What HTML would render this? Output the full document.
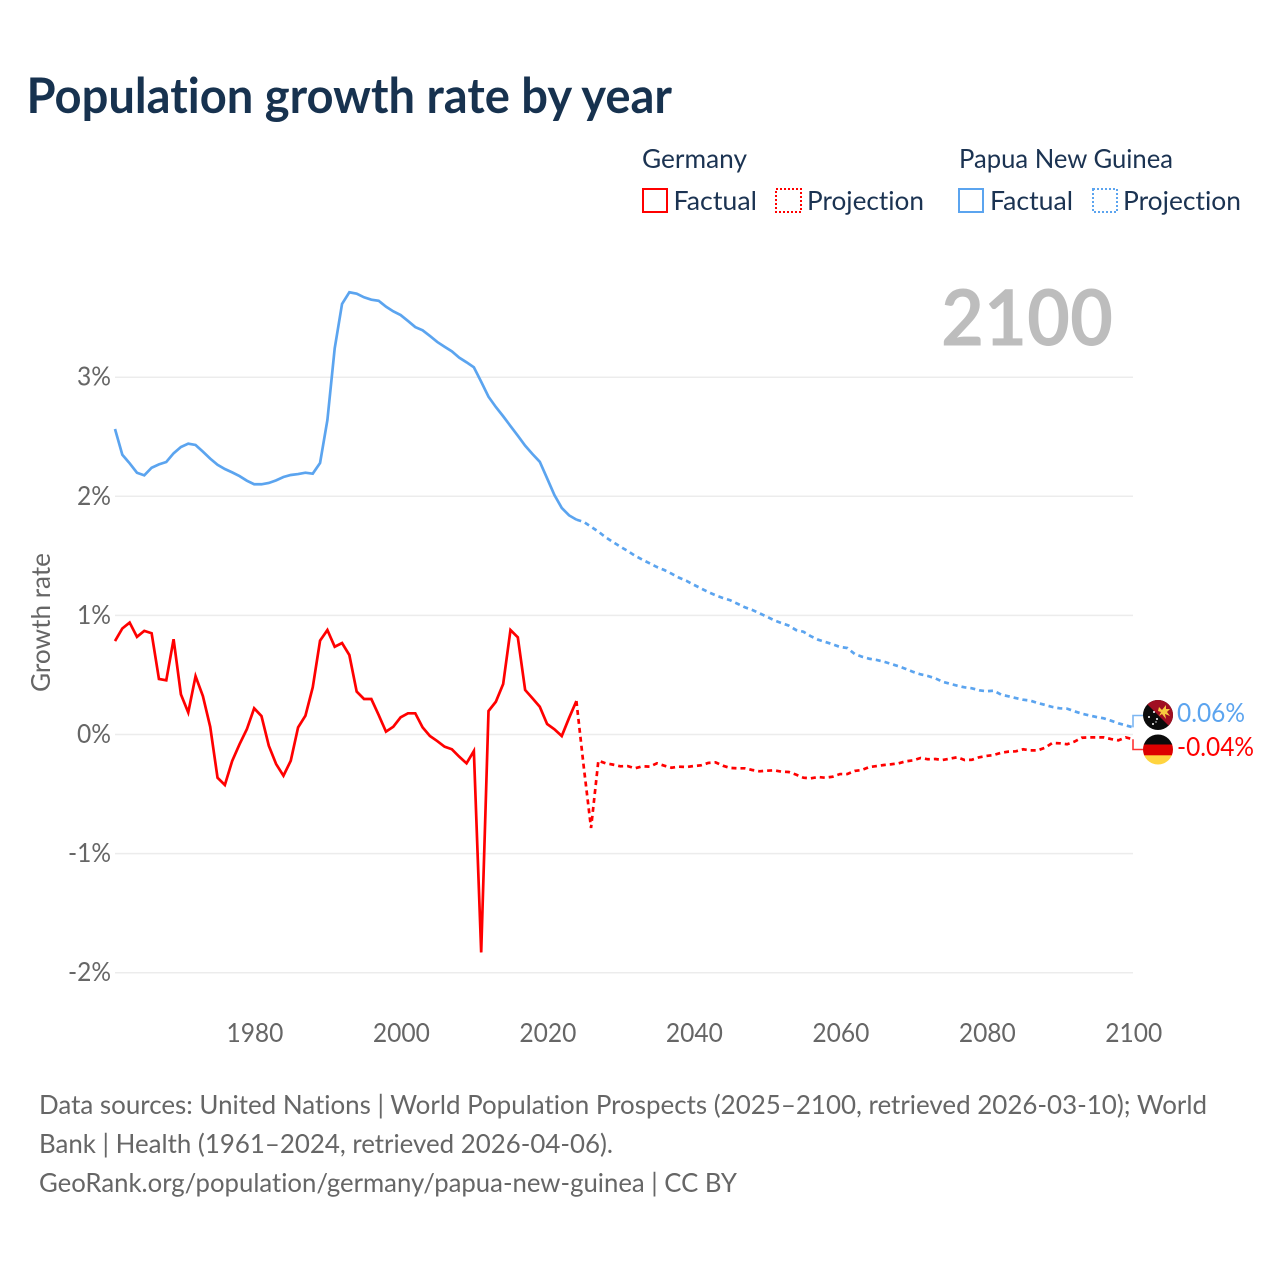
<!DOCTYPE html>
<html lang="en">
<head>
<meta charset="utf-8">
<title>Population growth rate by year</title>
<style>
html,body{margin:0;padding:0;background:#fff;width:1280px;height:1280px;overflow:hidden}
svg{display:block}
text{font-family:"Lato","Carlito","Liberation Sans",sans-serif;font-variant-ligatures:none;font-feature-settings:"liga" 0,"clig" 0}
.legend-text{font-size:26.5px;fill:#1b3352}
.foot{font-size:26.5px;fill:#666}
.tick{font-size:26.5px;fill:#666}
</style>
</head>
<body>
<svg id="chart" width="1280" height="1280" viewBox="0 0 1280 1280" xmlns="http://www.w3.org/2000/svg">
  <rect x="0" y="0" width="1280" height="1280" fill="#fff"/>
  <text x="26.5" y="113" font-size="49" font-weight="700" fill="#17324f" textLength="645.5" lengthAdjust="spacingAndGlyphs">Population growth rate by year</text>

  <g>
    <text class="legend-text" x="642" y="168" textLength="105" lengthAdjust="spacingAndGlyphs">Germany</text>
    <rect x="643" y="189" width="24" height="23" fill="none" stroke="#ff0000" stroke-width="2"/>
    <text class="legend-text" x="673.5" y="210" textLength="83.5" lengthAdjust="spacingAndGlyphs">Factual</text>
    <rect x="776" y="189" width="25" height="23" fill="none" stroke="#ff0000" stroke-width="2" stroke-dasharray="2 2"/>
    <text class="legend-text" x="807" y="210" textLength="117" lengthAdjust="spacingAndGlyphs">Projection</text>
    <text class="legend-text" x="959" y="168" textLength="214" lengthAdjust="spacingAndGlyphs">Papua New Guinea</text>
    <rect x="959" y="189" width="24" height="23" fill="none" stroke="#5ba4ef" stroke-width="2"/>
    <text class="legend-text" x="990" y="210" textLength="83" lengthAdjust="spacingAndGlyphs">Factual</text>
    <rect x="1093" y="189" width="24" height="23" fill="none" stroke="#5ba4ef" stroke-width="2" stroke-dasharray="2 2"/>
    <text class="legend-text" x="1123" y="210" textLength="118" lengthAdjust="spacingAndGlyphs">Projection</text>
  </g>

  <text x="941" y="345.5" font-size="78" font-weight="700" fill="#bdbdbd" textLength="172" lengthAdjust="spacingAndGlyphs">2100</text>
  <text transform="translate(50,692) rotate(-90)" x="0" y="0" font-size="26.5" fill="#666" textLength="139" lengthAdjust="spacingAndGlyphs">Growth rate</text>

  <g id="grid"></g>
  <g id="yticks"></g>
  <g id="xticks"></g>
  <g id="series"></g>

  <g>
    <clipPath id="clip-png"><circle cx="1158" cy="715" r="15"/></clipPath>
    <g clip-path="url(#clip-png)">
      <rect x="1143" y="700" width="30" height="30" fill="#0b0b0b"/>
      <polygon points="1143,700 1173,700 1173,730" fill="#a00f22"/>
      <polygon points="1159,707 1162,710 1166,705 1166,709 1170,709 1167,712 1170,716 1165,714 1166,719 1162,714 1159,716 1161,712 1158,711" fill="#f7c93e"/>
      <circle cx="1149" cy="717" r="1" fill="#fff"/>
      <circle cx="1154" cy="712" r="1" fill="#fff"/>
      <circle cx="1157" cy="719" r="1" fill="#fff"/>
      <circle cx="1153" cy="724" r="1" fill="#fff"/>
      <circle cx="1156" cy="722" r=".7" fill="#fff"/>
    </g>
  </g>
  <g>
    <clipPath id="clip-de"><circle cx="1158" cy="749.5" r="15"/></clipPath>
    <g clip-path="url(#clip-de)">
      <rect x="1143" y="734" width="30" height="11" fill="#0b0b0b"/>
      <rect x="1143" y="744.5" width="30" height="11" fill="#dd0000"/>
      <rect x="1143" y="755.3" width="30" height="10" fill="#ffd43f"/>
    </g>
  </g>
  <text id="end-png" x="1177" y="722" font-size="26.5" fill="#5ba4ef" textLength="68" lengthAdjust="spacingAndGlyphs"></text>
  <text id="end-de" x="1177" y="756" font-size="26.5" fill="#ff0000" textLength="77" lengthAdjust="spacingAndGlyphs"></text>

  <g>
    <text class="foot" x="39" y="1114" textLength="1168" lengthAdjust="spacingAndGlyphs">Data sources: United Nations | World Population Prospects (2025–2100, retrieved 2026-03-10); World</text>
    <text class="foot" x="39" y="1153" textLength="574" lengthAdjust="spacingAndGlyphs">Bank | Health (1961–2024, retrieved 2026-04-06).</text>
    <text class="foot" x="39" y="1192" textLength="698" lengthAdjust="spacingAndGlyphs">GeoRank.org/population/germany/papua-new-guinea | CC BY</text>
  </g>
</svg>
<script>
const factualYears = [1961,1962,1963,1964,1965,1966,1967,1968,1969,1970,1971,1972,1973,1974,1975,1976,1977,1978,1979,1980,1981,1982,1983,1984,1985,1986,1987,1988,1989,1990,1991,1992,1993,1994,1995,1996,1997,1998,1999,2000,2001,2002,2003,2004,2005,2006,2007,2008,2009,2010,2011,2012,2013,2014,2015,2016,2017,2018,2019,2020,2021,2022,2023,2024];
const projectionYears = [2024,2025,2026,2027,2028,2029,2030,2031,2032,2033,2034,2035,2036,2037,2038,2039,2040,2041,2042,2043,2044,2045,2046,2047,2048,2049,2050,2051,2052,2053,2054,2055,2056,2057,2058,2059,2060,2061,2062,2063,2064,2065,2066,2067,2068,2069,2070,2071,2072,2073,2074,2075,2076,2077,2078,2079,2080,2081,2082,2083,2084,2085,2086,2087,2088,2089,2090,2091,2092,2093,2094,2095,2096,2097,2098,2099,2100];
const germanyFactual = [0.785,0.89,0.94,0.82,0.87,0.85,0.466,0.455,0.80,0.337,0.185,0.49,0.323,0.065,-0.363,-0.424,-0.222,-0.082,0.044,0.22,0.155,-0.094,-0.248,-0.346,-0.22,0.06,0.158,0.396,0.788,0.877,0.737,0.768,0.667,0.36,0.298,0.298,0.164,0.024,0.065,0.144,0.178,0.178,0.06,-0.013,-0.055,-0.102,-0.124,-0.186,-0.242,-0.139,-1.83,0.197,0.275,0.424,0.877,0.816,0.374,0.304,0.233,0.088,0.044,-0.013,0.139,0.281];
const germanyProjection = [0.281,-0.27,-0.785,-0.22,-0.242,-0.253,-0.267,-0.265,-0.284,-0.267,-0.27,-0.242,-0.262,-0.279,-0.27,-0.273,-0.265,-0.259,-0.239,-0.234,-0.262,-0.281,-0.284,-0.284,-0.298,-0.309,-0.304,-0.301,-0.312,-0.315,-0.337,-0.363,-0.368,-0.357,-0.363,-0.354,-0.332,-0.332,-0.306,-0.298,-0.273,-0.265,-0.256,-0.25,-0.242,-0.225,-0.217,-0.197,-0.208,-0.206,-0.214,-0.203,-0.191,-0.214,-0.212,-0.191,-0.18,-0.172,-0.153,-0.144,-0.141,-0.124,-0.133,-0.133,-0.111,-0.071,-0.074,-0.082,-0.06,-0.027,-0.024,-0.024,-0.024,-0.038,-0.049,-0.024,-0.04];
const pngFactual = [2.565,2.349,2.277,2.198,2.176,2.24,2.268,2.288,2.361,2.414,2.442,2.431,2.375,2.316,2.265,2.229,2.201,2.17,2.131,2.101,2.101,2.112,2.134,2.162,2.179,2.187,2.198,2.19,2.28,2.64,3.243,3.615,3.713,3.701,3.671,3.651,3.642,3.592,3.553,3.522,3.472,3.421,3.394,3.346,3.296,3.256,3.217,3.164,3.125,3.083,2.962,2.836,2.75,2.672,2.59,2.509,2.425,2.355,2.29,2.151,2.011,1.902,1.84,1.804];
const pngProjection = [1.804,1.785,1.745,1.703,1.656,1.616,1.577,1.541,1.501,1.468,1.437,1.406,1.381,1.35,1.317,1.291,1.258,1.227,1.196,1.169,1.146,1.127,1.098,1.068,1.046,1.018,0.989,0.959,0.936,0.914,0.877,0.863,0.825,0.796,0.777,0.757,0.735,0.726,0.676,0.653,0.636,0.626,0.611,0.592,0.573,0.55,0.525,0.505,0.491,0.472,0.443,0.426,0.41,0.396,0.388,0.371,0.363,0.368,0.334,0.321,0.306,0.292,0.284,0.264,0.248,0.231,0.22,0.217,0.195,0.175,0.161,0.147,0.136,0.116,0.094,0.077,0.06];
const yTicks = [-2,-1,0,1,2,3];
const yTickLabels = ['-2%','-1%','0%','1%','2%','3%'];
const xTicks = [1980,2000,2020,2040,2060,2080,2100];
const xTickLabels = ['1980','2000','2020','2040','2060','2080','2100'];

const NS = 'http://www.w3.org/2000/svg';
const RED = '#ff0000';
const BLUE = '#5ba4ef';
function xScale(year) { return 115 + (year - 1961) * (1133 - 115) / (2100 - 1961); }
function yScale(v) { return 734.5 - v * 119.1; }
function linePath(years, values) {
  return years.map(function (yr, i) {
    return (i ? 'L' : 'M') + xScale(yr).toFixed(2) + ' ' + yScale(values[i]).toFixed(2);
  }).join(' ');
}
function make(tag, parentId) {
  const el = document.createElementNS(NS, tag);
  document.getElementById(parentId).appendChild(el);
  return el;
}

yTicks.forEach(function (t, i) {
  const line = make('line', 'grid');
  
  
  line.setAttribute('x1', 115);
  line.setAttribute('x2', 1133);
  line.setAttribute('y1', yScale(t));
  line.setAttribute('y2', yScale(t));
  line.setAttribute('stroke', '#ececec');
  line.setAttribute('stroke-width', '1.5');

  const label = make('text', 'yticks');
  
  
  label.setAttribute('class', 'tick');
  label.setAttribute('x', 111);
  label.setAttribute('y', yScale(t) + 8.5);
  label.setAttribute('text-anchor', 'end');
  label.setAttribute('textLength', 34 + (yTickLabels[i].length - 2) * 9);
  label.setAttribute('lengthAdjust', 'spacingAndGlyphs');
  label.textContent = yTickLabels[i];
});

xTicks.forEach(function (t, i) {
  const label = make('text', 'xticks');
  
  
  label.setAttribute('class', 'tick');
  label.setAttribute('x', xScale(t) + 0.8);
  label.setAttribute('y', 1042);
  label.setAttribute('text-anchor', 'middle');
  label.setAttribute('textLength', 57);
  label.setAttribute('lengthAdjust', 'spacingAndGlyphs');
  label.textContent = xTickLabels[i];
});

const germanyFactualLine = make('path', 'series');


germanyFactualLine.setAttribute('d', linePath(factualYears, germanyFactual));
germanyFactualLine.setAttribute('fill', 'none');
germanyFactualLine.setAttribute('stroke', RED);
germanyFactualLine.setAttribute('stroke-width', '2.7');

const germanyProjectionLine = make('path', 'series');


germanyProjectionLine.setAttribute('d', linePath(projectionYears, germanyProjection));
germanyProjectionLine.setAttribute('fill', 'none');
germanyProjectionLine.setAttribute('stroke', RED);
germanyProjectionLine.setAttribute('stroke-width', '2.7');
germanyProjectionLine.setAttribute('stroke-dasharray', '5 4');

const pngFactualLine = make('path', 'series');


pngFactualLine.setAttribute('d', linePath(factualYears, pngFactual));
pngFactualLine.setAttribute('fill', 'none');
pngFactualLine.setAttribute('stroke', BLUE);
pngFactualLine.setAttribute('stroke-width', '2.7');

const pngProjectionLine = make('path', 'series');


pngProjectionLine.setAttribute('d', linePath(projectionYears, pngProjection));
pngProjectionLine.setAttribute('fill', 'none');
pngProjectionLine.setAttribute('stroke', BLUE);
pngProjectionLine.setAttribute('stroke-width', '2.7');
pngProjectionLine.setAttribute('stroke-dasharray', '5 4');

const lastX = xScale(2100);
const pngEnd = pngProjection[pngProjection.length - 1];
const deEnd = germanyProjection[germanyProjection.length - 1];

const pngConnector = make('path', 'series');


pngConnector.setAttribute('d', 'M' + lastX + ' ' + yScale(pngEnd) + ' V715.5 H1143');
pngConnector.setAttribute('fill', 'none');
pngConnector.setAttribute('stroke', BLUE);
pngConnector.setAttribute('stroke-width', '1.6');
pngConnector.setAttribute('opacity', '0.8');

const deConnector = make('path', 'series');


deConnector.setAttribute('d', 'M' + lastX + ' ' + yScale(deEnd) + ' V749.5 H1143');
deConnector.setAttribute('fill', 'none');
deConnector.setAttribute('stroke', RED);
deConnector.setAttribute('stroke-width', '1.6');
deConnector.setAttribute('opacity', '0.8');

document.getElementById('end-png').textContent = pngEnd.toFixed(2) + '%';
document.getElementById('end-de').textContent = deEnd.toFixed(2) + '%';
</script>
</body>
</html>
